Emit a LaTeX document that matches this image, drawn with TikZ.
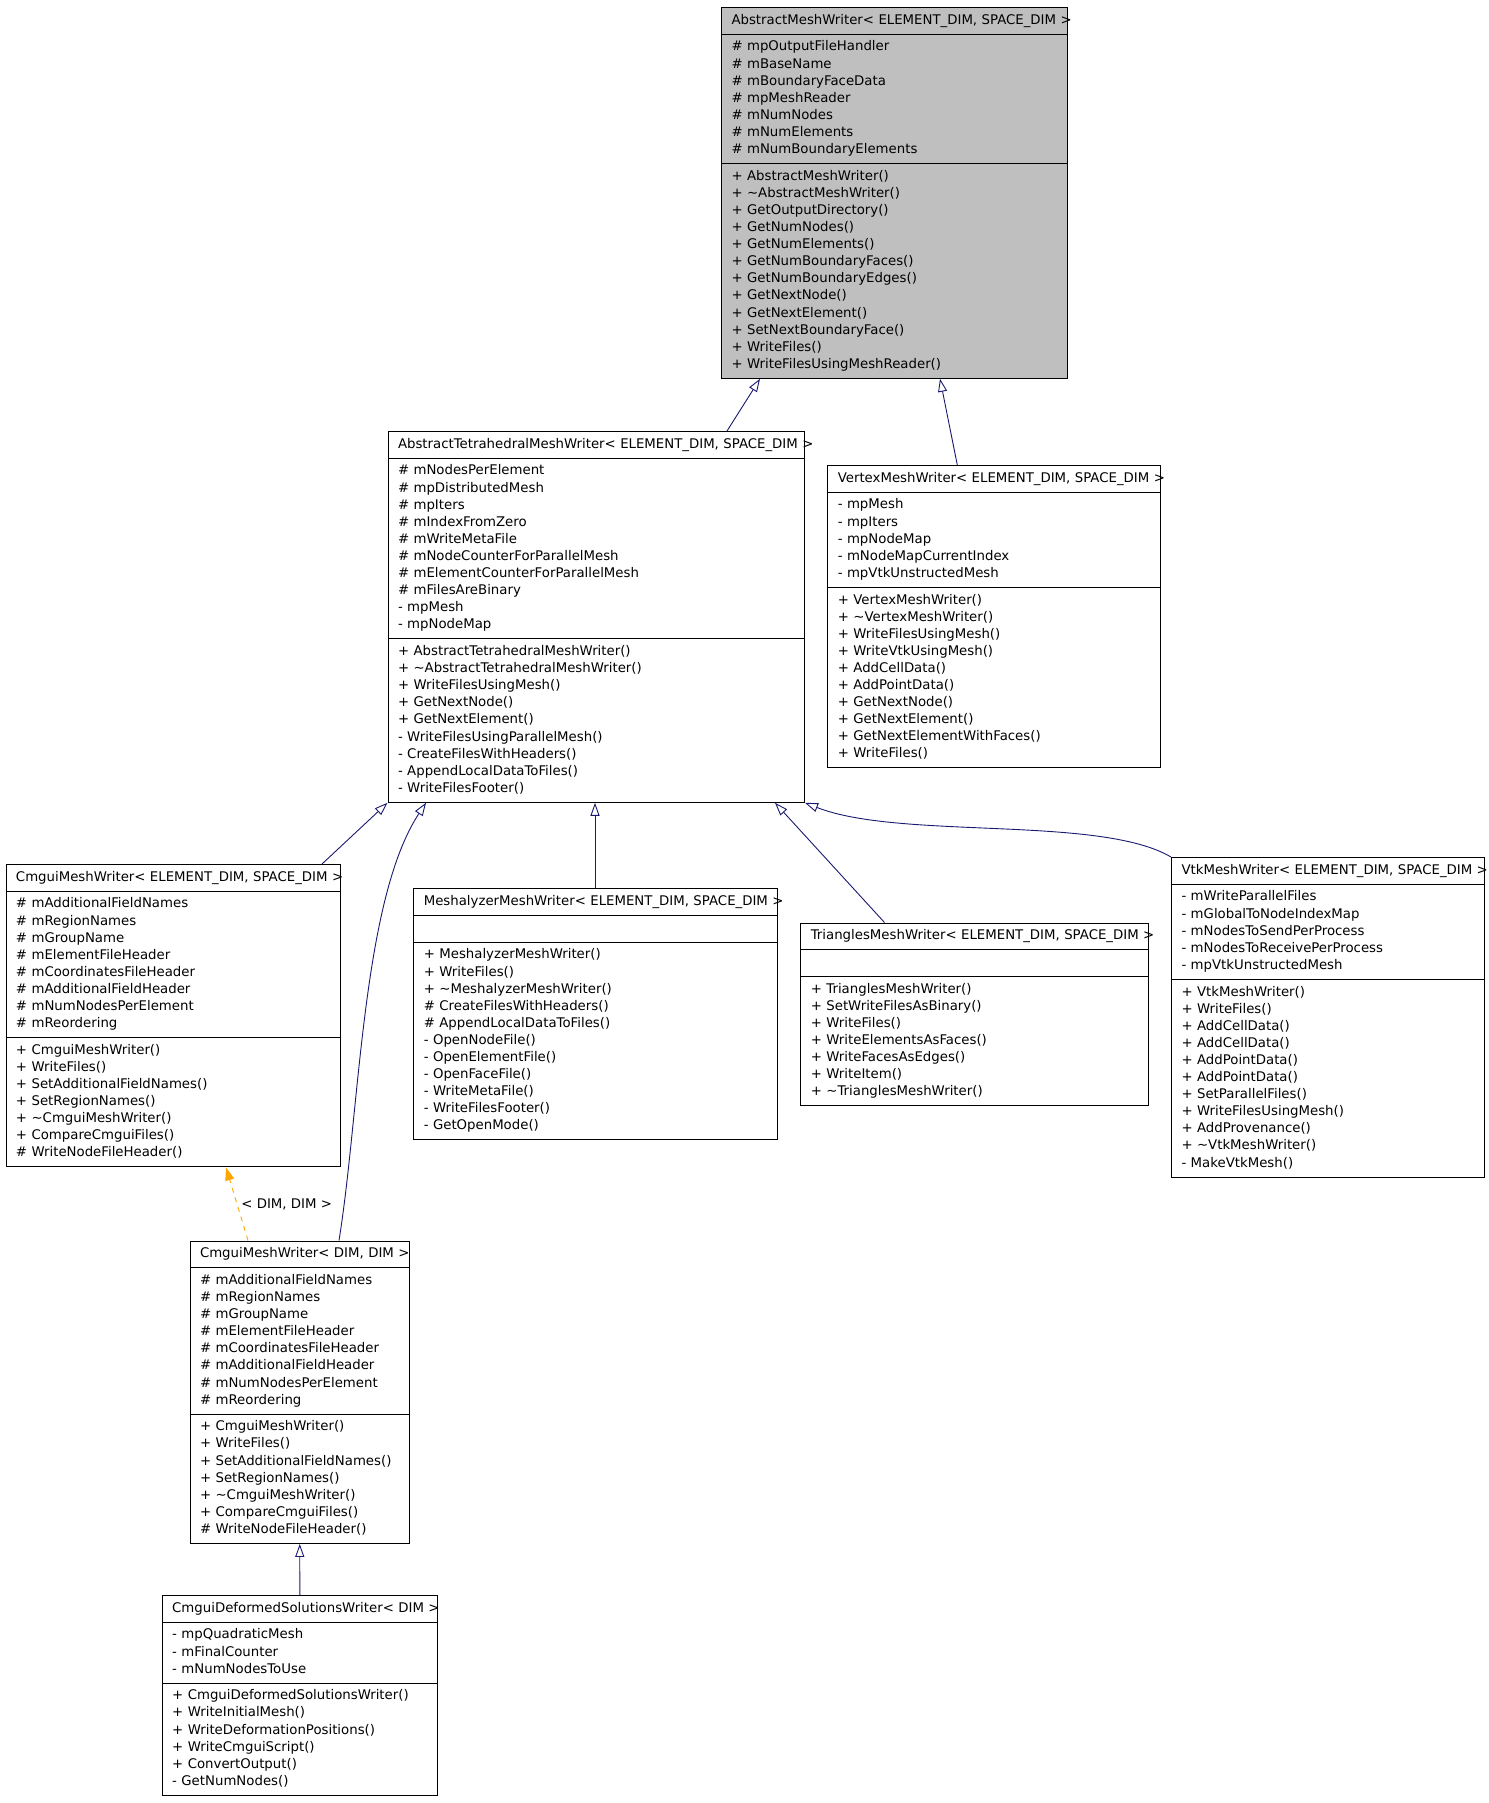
\documentclass[tikz,border=0pt]{standalone}
\usepackage{fontspec}
\setmainfont{DejaVu Sans}
\usepackage{tikz}
\usetikzlibrary{positioning,arrows.meta,shapes.multipart}
\definecolor{edgeblue}{RGB}{25,25,112}
\definecolor{basegray}{RGB}{191,191,191}
\definecolor{tmplorange}{RGB}{255,165,0}
\setlength{\parindent}{0pt}
\tikzset{
  classnode/.style = {rectangle split, rectangle split parts=3, draw=black,
                      line width=1pt, fill=white, align=left, anchor=north west,
                      inner xsep=10pt, inner ysep=4.3pt,
                      font=\fontsize{13.3pt}{17.1pt}\selectfont},
  basenode/.style  = {classnode, fill=basegray},
  inhedge/.style   = {-{Triangle[open, length=13pt, width=9pt]}, line width=0.9pt, edgeblue},
  tmpledge/.style  = {-{Triangle[length=13pt, width=9pt]}, line width=0.9pt, tmplorange,
                      dash pattern=on 5pt off 5pt},
  edgelbl/.style   = {font=\fontsize{13.3pt}{17.1pt}\selectfont, text=black, inner sep=0pt}
}
\newcommand{\umlparts}[3]{\mbox{\strut#1}\nodepart{two}\strut#2\strut\nodepart{three}\strut#3\strut}

\begin{document}
\begin{tikzpicture}[x=1pt, y=-1pt]
  \useasboundingbox (0,0) rectangle (1488,1803);
  % Base class
  \node[basenode, text width=326pt] (amw) at (721,7) {\umlparts
    {AbstractMeshWriter< ELEMENT\_DIM, SPACE\_DIM >}
    {\# mpOutputFileHandler\\ \# mBaseName\\ \# mBoundaryFaceData\\ \# mpMeshReader\\
     \# mNumNodes\\ \# mNumElements\\ \# mNumBoundaryElements}
    {+ AbstractMeshWriter()\\ + \textasciitilde AbstractMeshWriter()\\ + GetOutputDirectory()\\
     + GetNumNodes()\\ + GetNumElements()\\ + GetNumBoundaryFaces()\\ + GetNumBoundaryEdges()\\
     + GetNextNode()\\ + GetNextElement()\\ + SetNextBoundaryFace()\\ + WriteFiles()\\
     + WriteFilesUsingMeshReader()}};
  % Level 1
  \node[classnode, text width=396.5pt] (tet) at (387.5,431) {\umlparts
    {AbstractTetrahedralMeshWriter< ELEMENT\_DIM, SPACE\_DIM >}
    {\# mNodesPerElement\\ \# mpDistributedMesh\\ \# mpIters\\ \# mIndexFromZero\\
     \# mWriteMetaFile\\ \# mNodeCounterForParallelMesh\\ \# mElementCounterForParallelMesh\\
     \# mFilesAreBinary\\ - mpMesh\\ - mpNodeMap}
    {+ AbstractTetrahedralMeshWriter()\\ + \textasciitilde AbstractTetrahedralMeshWriter()\\
     + WriteFilesUsingMesh()\\ + GetNextNode()\\ + GetNextElement()\\
     - WriteFilesUsingParallelMesh()\\ - CreateFilesWithHeaders()\\
     - AppendLocalDataToFiles()\\ - WriteFilesFooter()}};
  \node[classnode, text width=313pt] (vertex) at (827.3,465) {\umlparts
    {VertexMeshWriter< ELEMENT\_DIM, SPACE\_DIM >}
    {- mpMesh\\ - mpIters\\ - mpNodeMap\\ - mNodeMapCurrentIndex\\ - mpVtkUnstructedMesh}
    {+ VertexMeshWriter()\\ + \textasciitilde VertexMeshWriter()\\ + WriteFilesUsingMesh()\\
     + WriteVtkUsingMesh()\\ + AddCellData()\\ + AddPointData()\\ + GetNextNode()\\
     + GetNextElement()\\ + GetNextElementWithFaces()\\ + WriteFiles()}};
  % Level 2
  \node[classnode, text width=314pt] (cmguies) at (5.5,864) {\umlparts
    {CmguiMeshWriter< ELEMENT\_DIM, SPACE\_DIM >}
    {\# mAdditionalFieldNames\\ \# mRegionNames\\ \# mGroupName\\ \# mElementFileHeader\\
     \# mCoordinatesFileHeader\\ \# mAdditionalFieldHeader\\ \# mNumNodesPerElement\\
     \# mReordering}
    {+ CmguiMeshWriter()\\ + WriteFiles()\\ + SetAdditionalFieldNames()\\ + SetRegionNames()\\
     + \textasciitilde CmguiMeshWriter()\\ + CompareCmguiFiles()\\ \# WriteNodeFileHeader()}};
  \node[classnode, text width=344pt] (mesh) at (413.3,888.3) {\umlparts
    {MeshalyzerMeshWriter< ELEMENT\_DIM, SPACE\_DIM >}
    {}
    {+ MeshalyzerMeshWriter()\\ + WriteFiles()\\ + \textasciitilde MeshalyzerMeshWriter()\\
     \# CreateFilesWithHeaders()\\ \# AppendLocalDataToFiles()\\ - OpenNodeFile()\\
     - OpenElementFile()\\ - OpenFaceFile()\\ - WriteMetaFile()\\ - WriteFilesFooter()\\
     - GetOpenMode()}};
  \node[classnode, text width=328pt] (tri) at (800.3,922.5) {\umlparts
    {TrianglesMeshWriter< ELEMENT\_DIM, SPACE\_DIM >}
    {}
    {+ TrianglesMeshWriter()\\ + SetWriteFilesAsBinary()\\ + WriteFiles()\\
     + WriteElementsAsFaces()\\ + WriteFacesAsEdges()\\ + WriteItem()\\
     + \textasciitilde TrianglesMeshWriter()}};
  \node[classnode, text width=293pt] (vtk) at (1171,857) {\umlparts
    {VtkMeshWriter< ELEMENT\_DIM, SPACE\_DIM >}
    {- mWriteParallelFiles\\ - mGlobalToNodeIndexMap\\ - mNodesToSendPerProcess\\
     - mNodesToReceivePerProcess\\ - mpVtkUnstructedMesh}
    {+ VtkMeshWriter()\\ + WriteFiles()\\ + AddCellData()\\ + AddCellData()\\
     + AddPointData()\\ + AddPointData()\\ + SetParallelFiles()\\ + WriteFilesUsingMesh()\\
     + AddProvenance()\\ + \textasciitilde VtkMeshWriter()\\ - MakeVtkMesh()}};
  % Level 3
  \node[classnode, text width=199pt] (cmguidim) at (189.5,1240.5) {\umlparts
    {CmguiMeshWriter< DIM, DIM >}
    {\# mAdditionalFieldNames\\ \# mRegionNames\\ \# mGroupName\\ \# mElementFileHeader\\
     \# mCoordinatesFileHeader\\ \# mAdditionalFieldHeader\\ \# mNumNodesPerElement\\
     \# mReordering}
    {+ CmguiMeshWriter()\\ + WriteFiles()\\ + SetAdditionalFieldNames()\\ + SetRegionNames()\\
     + \textasciitilde CmguiMeshWriter()\\ + CompareCmguiFiles()\\ \# WriteNodeFileHeader()}};
  % Level 4
  \node[classnode, text width=255.6pt] (dsw) at (161.7,1595) {\umlparts
    {CmguiDeformedSolutionsWriter< DIM >}
    {- mpQuadraticMesh\\ - mFinalCounter\\ - mNumNodesToUse}
    {+ CmguiDeformedSolutionsWriter()\\ + WriteInitialMesh()\\ + WriteDeformationPositions()\\
     + WriteCmguiScript()\\ + ConvertOutput()\\ - GetNumNodes()}};
  % Edges
  \draw[inhedge] ([xshift=339.5pt]tet.north west) -- ([xshift=39pt]amw.south west);
  \draw[inhedge] ([xshift=130pt]vertex.north west) -- ([xshift=219pt]amw.south west);
  \draw[inhedge] ([xshift=316.5pt]cmguies.north west) -- (tet.south west);
  \draw[inhedge] ([xshift=149.5pt]cmguidim.north west) .. controls (360,1110) and (362,900)
    .. ([xshift=38.5pt]tet.south west);
  \coordinate (meshtop) at ([xshift=181.7pt]mesh.north west);
  \draw[inhedge] (meshtop) -- (meshtop |- tet.south);
  \draw[inhedge] ([xshift=84.2pt]tri.north west) -- ([xshift=387.5pt]tet.south west);
  \draw[inhedge] (vtk.north west) .. controls (1100,815) and (900,840) .. (tet.south east);
  \draw[tmpledge] ([xshift=58.5pt]cmguidim.north west) --
    node[edgelbl, right=4pt] (tmpllbl) {< DIM, DIM >} ([xshift=220.5pt]cmguies.south west);
  \draw[inhedge] (dsw) -- (cmguidim);
\end{tikzpicture}
\end{document}
